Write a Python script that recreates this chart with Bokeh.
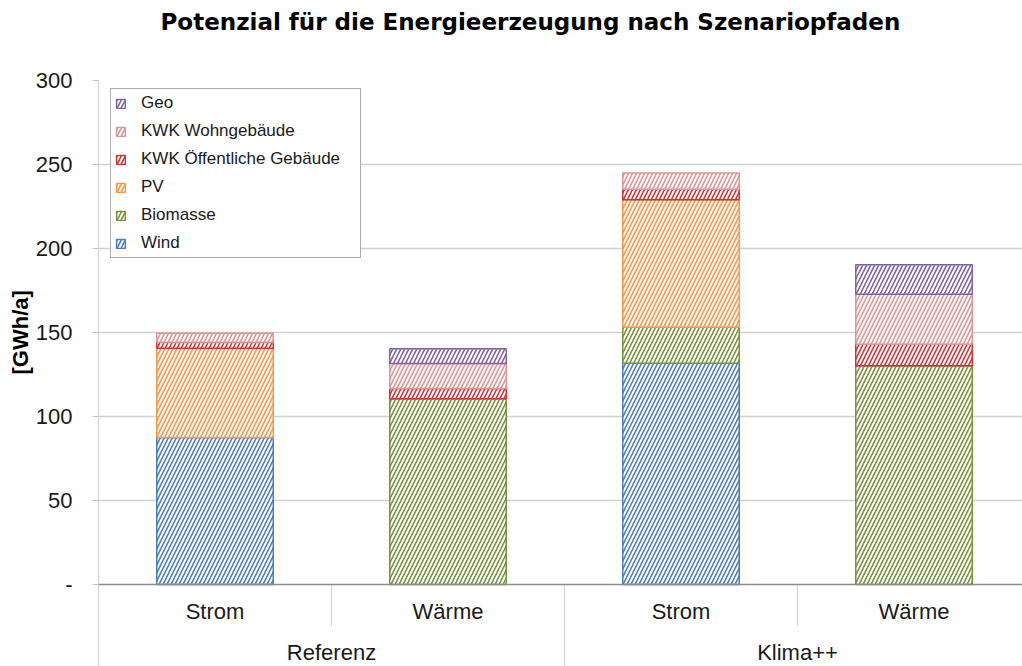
from bokeh.plotting import figure
from bokeh.models import ColumnDataSource, FixedTicker, Span, Range1d, Legend, Title
from bokeh.core.properties import value
from bokeh.embed import file_html
from bokeh.resources import INLINE

# ---- data ----
categories = ["Strom", "Wärme", "Strom", "Wärme"]
groups = ["Referenz", "Klima++"]
series = ["Wind", "Biomasse", "PV", "KWK Öffentliche Gebäude", "KWK Wohngebäude", "Geo"]
wind = [87.5, 0, 131.7, 0]
biomasse = [0, 110.5, 21.5, 130.2]
pv = [53.2, 0, 75.8, 0]
kwk_oeff = [3.5, 6.2, 6.3, 12.8]
kwk_wohn = [5.4, 14.8, 9.7, 29.8]
geo = [0, 8.8, 0, 17.5]
colors = ["#4a7ebb", "#77933c", "#f79646", "#d0343a", "#d99694", "#8064a2"]
y_ticks = [0, 50, 100, 150, 200, 250, 300]

values = [wind, biomasse, pv, kwk_oeff, kwk_wohn, geo]

FONT = "Liberation Sans"

p = figure(width=1022, height=666, output_backend="svg", toolbar_location=None,
           x_range=Range1d(0, 924 / 233.0), y_range=Range1d(-48.8, 300),
           x_axis_location=None, min_border_left=98, min_border_right=0,
           min_border_top=80, min_border_bottom=0)
p.outline_line_color = None
p.background_fill_color = "white"
p.border_fill_color = "white"

# title: a thin spacer next to the frame, then the real title above it
p.add_layout(Title(text=" ", text_font_size="1px", standoff=43), "above")
p.add_layout(Title(text="Potenzial für die Energieerzeugung nach Szenariopfaden",
                   align="left", offset=62, vertical_align="bottom", standoff=0,
                   text_font="DejaVu Sans", text_font_size="23px",
                   text_font_style="bold", text_color="#000000"), "above")

# y axis
ax = p.yaxis[0]
ax.ticker = FixedTicker(ticks=y_ticks)
ax.major_label_overrides = {0: "-"}
ax.axis_line_color = "#d9d9d9"
ax.axis_line_width = 1.5
ax.major_tick_line_color = "#bfbfbf"
ax.major_tick_out = 6
ax.major_tick_in = 0
ax.minor_tick_line_color = None
ax.major_label_standoff = 20
ax.major_label_text_font = FONT
ax.major_label_text_font_size = "22px"
ax.major_label_text_color = "#1a1a1a"

# y label as a left-side title
ylab = Title(text="[GWh/a]", align="left", offset=292, standoff=0, text_font=FONT,
             text_font_size="22px", text_font_style="bold", text_color="#000000")
p.add_layout(ylab, "left")

p.xgrid.visible = False
p.ygrid.ticker = FixedTicker(ticks=y_ticks[1:])
p.ygrid.grid_line_color = "#d0d0d0"
p.ygrid.grid_line_width = 1.5

# bars (stacked manually so empty segments are skipped)
xs = [i + 0.5 for i in range(len(categories))]
bottoms = [0.0] * len(categories)
renderers = []
for name, vals, col in zip(series, values, colors):
    bx, bb, bt = [], [], []
    for i, v in enumerate(vals):
        if v > 0:
            bx.append(xs[i]); bb.append(bottoms[i]); bt.append(bottoms[i] + v)
        bottoms[i] += v
    src = ColumnDataSource(dict(x=bx, bottom=bb, top=bt))
    r = p.vbar(x="x", bottom="bottom", top="top", width=0.5, source=src,
               fill_color="white", line_color=col, line_width=1.5,
               hatch_pattern="/", hatch_color=col, hatch_scale=8, hatch_weight=1.6)
    renderers.append((name, r))

# baseline (x axis line)
p.add_layout(Span(location=0, dimension="width", line_color="#8c8c8c", line_width=1.5))

# category separators
n = len(categories)
sep_x = [1, 3]
p.segment(x0=sep_x, y0=[0, 0], x1=sep_x, y1=[-24.4, -24.4], line_color="#d0d0d0", line_width=1)
p.segment(x0=[2], y0=[0], x1=[2], y1=[-48.8], line_color="#d0d0d0", line_width=1)

# category labels
p.text(x=xs, y=[-16.1] * n, text=categories, text_align="center", text_baseline="middle",
       text_font=value(FONT), text_font_size="22px", text_color="#1a1a1a")
gx = [1.0, 3.0]
p.text(x=gx, y=[-40.5] * 2, text=groups, text_align="center", text_baseline="middle",
       text_font=value(FONT), text_font_size="22px", text_color="#1a1a1a")

# legend
legend = Legend(items=[(nm, [r]) for nm, r in reversed(renderers)], location=(12, 408))
legend.padding = 4
legend.spacing = 8
legend.label_height = 19
legend.label_standoff = 15
legend.label_width = 215
legend.glyph_height = 11
legend.glyph_width = 11
legend.label_text_font = FONT
legend.label_text_font_size = "17px"
legend.label_text_color = "#1a1a1a"
legend.border_line_color = "#595959"
legend.border_line_width = 1
legend.background_fill_color = "white"
legend.background_fill_alpha = 1
p.add_layout(legend)

open("out.html", "w").write(file_html(p, INLINE))
